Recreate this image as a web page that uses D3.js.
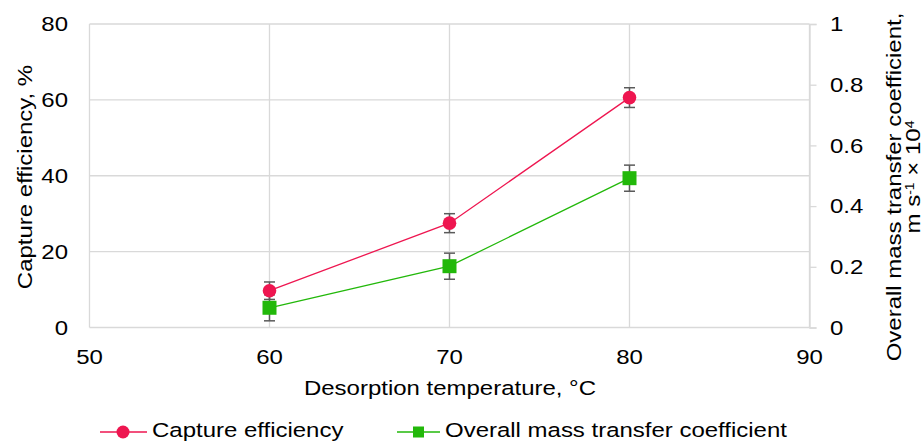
<!DOCTYPE html>
<html>
<head>
<meta charset="utf-8">
<script src="https://cdn.jsdelivr.net/npm/d3@7"></script>
<style>
  body { margin: 0; background: #fff; }
  svg text { font-family: Arial, "Liberation Sans", sans-serif; fill: #000; }
</style>
</head>
<body>
<svg id="chart" width="924" height="442"></svg>
<script>
// data
const temps = [60, 70, 80];
const captureEff = [9.7, 27.5, 60.6];
const captureErr = [2.3, 2.5, 2.6];
const massCoef = [0.065, 0.202, 0.492];
const massErr = [0.043, 0.043, 0.043];

const xTicks = [50, 60, 70, 80, 90];
const leftTicks = [0, 20, 40, 60, 80];
const rightTicks = [0, 0.2, 0.4, 0.6, 0.8, 1];

const redCol = "#ee1650";
const greenCol = "#22b80a";
const gridCol = "#d9d9d9";
const errCol = "#5a5a5a";

// the source text is a bit wider than Arial, stretch it sideways
const fs = 20.5, sx = 1.17;

const svg = d3.select("#chart");
const plot = {left: 89.5, right: 809.5, top: 24, bottom: 327.5};

const x = d3.scaleLinear().domain([50, 90]).range([plot.left, plot.right]);
const yL = d3.scaleLinear().domain([0, 80]).range([plot.bottom, plot.top]);
const yR = d3.scaleLinear().domain([0, 1]).range([plot.bottom, plot.top]);

let label = (px, py, str, anchor, rot) => {
  const g = svg.append("g")
    .attr("transform", `translate(${px},${py})` + (rot ? ` rotate(${rot})` : ""));
  return g.append("text")
    .attr("transform", `scale(${sx},1)`)
    .attr("text-anchor", anchor || "start")
    .attr("font-size", fs)
    .text(str);
};

// gridlines
svg.append("g").selectAll("line")
  .data(leftTicks.filter(d => d > 0))
  .enter().append("line")
  .attr("x1", plot.left).attr("x2", plot.right)
  .attr("y1", d => yL(d)).attr("y2", d => yL(d))
  .attr("stroke", gridCol).attr("stroke-width", 1.3);
svg.append("g").selectAll("line")
  .data(xTicks.filter(d => d > 50))
  .enter().append("line")
  .attr("x1", d => x(d)).attr("x2", d => x(d))
  .attr("y1", plot.top).attr("y2", plot.bottom)
  .attr("stroke", gridCol).attr("stroke-width", 1.3);

// axes lines
svg.append("line").attr("x1", plot.left).attr("x2", plot.left)
  .attr("y1", plot.top).attr("y2", plot.bottom)
  .attr("stroke", gridCol).attr("stroke-width", 1.3);
svg.append("line").attr("x1", plot.left).attr("x2", plot.right)
  .attr("y1", plot.bottom).attr("y2", plot.bottom)
  .attr("stroke", gridCol).attr("stroke-width", 1.3);

// right axis: line + outward ticks
const rightAxis = svg.append("g")
  .attr("transform", `translate(${plot.right},0)`)
  .call(d3.axisRight(yR).tickValues(rightTicks).tickSize(7).tickFormat(""));
rightAxis.select(".domain").attr("stroke", gridCol).attr("stroke-width", 1.3);
rightAxis.selectAll(".tick line").attr("stroke", gridCol).attr("stroke-width", 1.3);

// tick labels
leftTicks.forEach(d => label(68, yL(d), d, "end").attr("dy", "0.35em"));
rightTicks.forEach(d => label(830, yR(d), +d.toFixed(1), "start").attr("dy", "0.35em"));
xTicks.forEach(d => label(x(d), 364, d, "middle"));

// axis titles
label(450, 395, "Desorption temperature, °C", "middle");
label(32, 177, "Capture efficiency, %", "middle", -90);
label(901, 187, "Overall mass transfer coefficient,", "middle", -90);
const l2 = label(920, 177, "", "middle", -90);
l2.append("tspan").text("m s");
l2.append("tspan").attr("font-size", 12).attr("dy", -6.5).text("-1");
l2.append("tspan").attr("dy", 6.5).text(" × 10");
l2.append("tspan").attr("font-size", 12).attr("dy", -6.5).text("4");

// series
const redData = temps.map((t, i) => ({t, v: captureEff[i], e: captureErr[i]}));
const greenData = temps.map((t, i) => ({t, v: massCoef[i], e: massErr[i]}));

svg.append("path").datum(redData)
  .attr("fill", "none").attr("stroke", redCol).attr("stroke-width", 1.3)
  .attr("d", d3.line().x(d => x(d.t)).y(d => yL(d.v)));
svg.append("path").datum(greenData)
  .attr("fill", "none").attr("stroke", greenCol).attr("stroke-width", 1.3)
  .attr("d", d3.line().x(d => x(d.t)).y(d => yR(d.v)));

let errBars = (data, yScale) => {
  const g = svg.append("g").attr("stroke", errCol).attr("stroke-width", 1.5);
  data.forEach(d => {
    const cx = x(d.t), y1 = yScale(d.v + d.e), y2 = yScale(d.v - d.e);
    g.append("line").attr("x1", cx).attr("x2", cx).attr("y1", y1).attr("y2", y2);
    g.append("line").attr("x1", cx - 5.5).attr("x2", cx + 5.5).attr("y1", y1).attr("y2", y1);
    g.append("line").attr("x1", cx - 5.5).attr("x2", cx + 5.5).attr("y1", y2).attr("y2", y2);
  });
};
errBars(redData, yL);
errBars(greenData, yR);

svg.append("g").selectAll("circle").data(redData).enter().append("circle")
  .attr("cx", d => x(d.t)).attr("cy", d => yL(d.v)).attr("r", 6.8)
  .attr("fill", redCol);
svg.append("g").selectAll("rect").data(greenData).enter().append("rect")
  .attr("x", d => x(d.t) - 7).attr("y", d => yR(d.v) - 7)
  .attr("width", 14).attr("height", 14).attr("fill", greenCol);

// legend
const ly = 432;
svg.append("line").attr("x1", 100).attr("x2", 147).attr("y1", ly).attr("y2", ly)
  .attr("stroke", redCol).attr("stroke-width", 1.3);
svg.append("circle").attr("cx", 123).attr("cy", ly).attr("r", 6.5).attr("fill", redCol);
label(152, ly + 5, "Capture efficiency", "start");

svg.append("line").attr("x1", 397).attr("x2", 440).attr("y1", ly).attr("y2", ly)
  .attr("stroke", greenCol).attr("stroke-width", 1.3);
svg.append("rect").attr("x", 413).attr("y", ly - 5.5).attr("width", 11).attr("height", 11).attr("fill", greenCol);
label(445, ly + 5, "Overall mass transfer coefficient", "start");
</script>
</body>
</html>
